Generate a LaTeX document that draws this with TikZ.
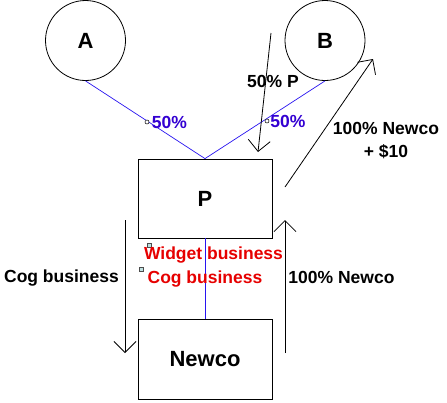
\documentclass[tikz,border=0pt]{standalone}
\usepackage{fontspec}
\setmainfont{Liberation Sans}
\usetikzlibrary{arrows.meta}
\definecolor{lineblue}{RGB}{40,20,240}
\definecolor{txtblue}{RGB}{51,0,210}
\definecolor{txtred}{RGB}{230,0,0}
\definecolor{handle}{RGB}{190,225,225}
\tikzset{
  big/.style={font=\fontsize{22}{24}\selectfont\bfseries},
  lbl/.style={font=\fontsize{17.5}{20}\selectfont\bfseries, inner sep=0pt},
  ent/.style={draw, line width=0.8pt, big, inner sep=0pt},
  own/.style={draw=lineblue, line width=0.7pt},
  flow/.style={line width=0.8pt, -{Straight Barb[length=11pt,width=22pt,line width=0.8pt]}},
  hcirc/.style={circle, draw, fill=white, line width=0.5pt, minimum size=4pt, inner sep=0pt},
  hsq/.style={rectangle, draw=black!70, fill=handle, line width=0.5pt, minimum size=4.5pt, inner sep=0pt}
}
\begin{document}
\begin{tikzpicture}[x=1pt,y=-1pt]
\useasboundingbox (0,0) rectangle (447,402);
% entities
\node[ent, circle, minimum size=80pt] (A) at (85.5,40.5) {A};
\node[ent, circle, minimum size=80pt] (B) at (325,40.5) {B};
\node[ent, rectangle, minimum width=134pt, minimum height=79pt] (P) at (205,198.5) {P};
\node[ent, rectangle, minimum width=134pt, minimum height=80pt] (N) at (205,359) {Newco};
% ownership lines
\draw[own] (A.south) -- (P.north);
\draw[own] (B.south) -- (P.north);
\draw[own] (P.south) -- (N.north);
% handles
\node[hcirc] (h1) at (147,122) {};
\node[hcirc] (h2) at (267,121) {};
\node[hsq] (h3) at (149,245) {};
\node[hsq] (h4) at (141,269) {};
% ownership labels
\node[lbl, text=txtblue] (pa) at (169.5,122) {50\%};
\node[lbl, text=txtblue] (pb) at (288,121) {50\%};
% flow arrows
\coordinate (f1s) at (271,33);
\coordinate (f1e) at (258,152);
\draw[flow] (f1s) -- (f1e);
\coordinate (f2s) at (285,187);
\coordinate (f2e) at (373,59);
\draw[flow] (f2s) -- (f2e);
\coordinate (f3s) at (125,220);
\coordinate (f3e) at (125,353);
\draw[flow] (f3s) -- (f3e);
\coordinate (f4s) at (285,353);
\coordinate (f4e) at (285,220);
\draw[flow] (f4s) -- (f4e);
% flow labels
\node[lbl] (l1) at (273,81) {50\% P};
\node[lbl, align=center] (l2) at (386,141) {100\% Newco\\[3pt]+ \$10};
\node[lbl] (l3) at (61.5,278) {Cog business};
\node[lbl] (l4) at (341.5,277) {100\% Newco};
\node[lbl, text=txtred] (l5) at (213.5,255) {Widget business};
\node[lbl, text=txtred] (l6) at (205,279) {Cog business};
\end{tikzpicture}
\end{document}
